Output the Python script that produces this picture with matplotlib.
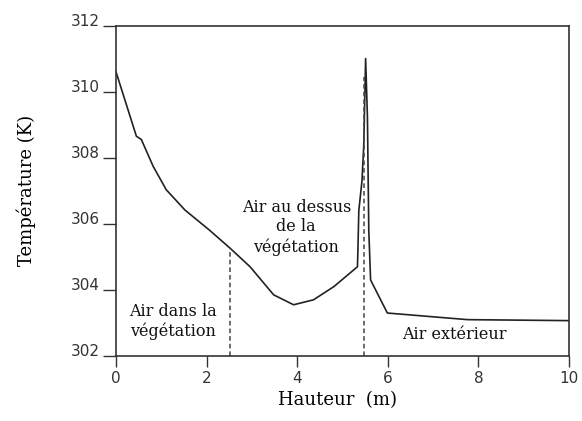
import numpy as np
from matplotlib import pyplot as plt

# Profil de température
hauteur = [0.0, 0.45, 0.56, 0.82, 1.11, 1.52, 2.07, 2.52, 2.96, 3.48, 3.92,
           4.36, 4.81, 5.33, 5.34, 5.36, 5.43, 5.47, 5.51, 5.55, 5.58, 5.62,
           5.99, 7.76, 10.0]
temperature = [310.6, 308.65, 308.55, 307.74, 307.03, 306.42, 305.8, 305.26,
               304.7, 303.85, 303.55, 303.7, 304.1, 304.7, 305.2, 306.4,
               307.3, 308.4, 311.0, 309.25, 305.8, 304.3, 303.3, 303.1, 303.07]

# Limites des zones (m)
limites = [2.52, 5.48]
limites_haut = [305.26, 310.45]

zones = ["Air dans la\nvégétation", "Air au dessus\nde la\nvégétation", "Air extérieur"]
zones_x = [1.25, 3.98, 7.46]
zones_y = [303.05, 305.9, 302.64]

serif = "DejaVu Serif"

fig = plt.figure(figsize=(5.82, 4.21), dpi=100)
ax = fig.add_axes([0.1993, 0.1544, 0.7784, 0.785])

ax.plot(hauteur, temperature, color="#222222", lw=1.2)
for xl, yh in zip(limites, limites_haut):
    ax.plot([xl, xl], [302, yh], color="#444444", lw=1.1, ls=(0, (3, 2)))

for txt, x, y in zip(zones, zones_x, zones_y):
    ax.text(x, y, txt, ha="center", va="center", family=serif, fontsize=11.5,
            linespacing=1.2, color="#111111")

ax.set_xlim(0, 10)
ax.set_ylim(302, 312)
ax.set_xticks([0, 2, 4, 6, 8, 10])
ax.set_yticks([302, 304, 306, 308, 310, 312])
ax.tick_params(direction="out", width=1, labelsize=11, colors="#333333")
ax.tick_params(axis="x", length=8, pad=3)
ax.tick_params(axis="y", length=9.5, pad=2)
for lab in ax.get_yticklabels():
    lab.set_va("baseline")
for s in ax.spines.values():
    s.set_linewidth(1.2)
    s.set_color("#333333")

ax.set_xlabel("Hauteur  (m)", family=serif, fontsize=13)
ax.set_ylabel("Température (K)", family=serif, fontsize=13)
ax.xaxis.set_label_coords(0.488, -0.106)
ax.yaxis.set_label_coords(-0.177, 0.5)

plt.savefig("out.png", dpi=100)
